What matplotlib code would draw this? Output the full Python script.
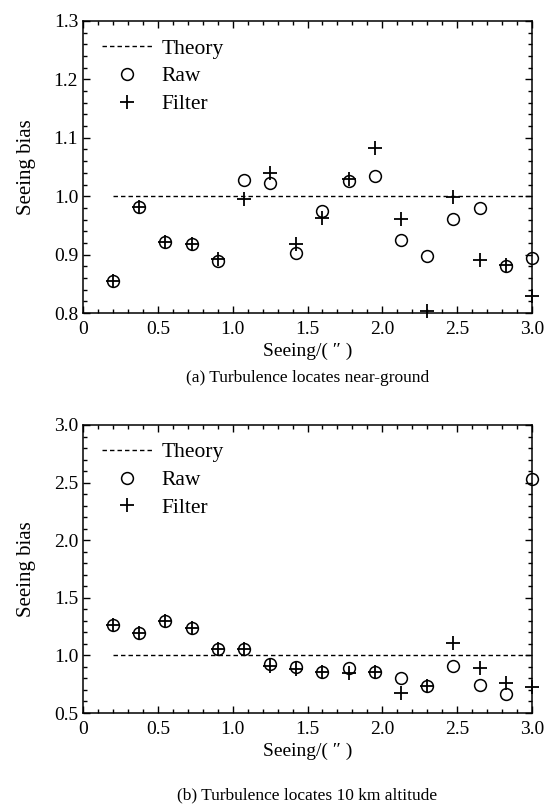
import matplotlib
matplotlib.use("Agg")
import matplotlib.pyplot as plt
from matplotlib.ticker import MultipleLocator, FormatStrFormatter

plt.rcParams['font.family'] = ['Liberation Serif', 'DejaVu Serif']
plt.rcParams['mathtext.fontset'] = 'stix'

seeing = [0.2, 0.375, 0.55, 0.725, 0.9, 1.075, 1.25, 1.425, 1.6, 1.775,
          1.95, 2.125, 2.3, 2.475, 2.65, 2.825, 3.0]

raw_a = [0.855, 0.982, 0.922, 0.918, 0.889, 1.028, 1.023, 0.903, 0.975, 1.026,
         1.035, 0.925, 0.898, 0.961, 0.980, 0.880, 0.894]
filt_a = [0.855, 0.982, 0.922, 0.918, 0.892, 0.995, 1.040, 0.918, 0.962, 1.029,
          1.083, 0.961, 0.804, 0.999, 0.891, 0.883, 0.829]

raw_b = [1.264, 1.192, 1.301, 1.241, 1.058, 1.058, 0.925, 0.902, 0.853, 0.888,
         0.853, 0.804, 0.732, 0.911, 0.740, 0.668, 2.531]
filt_b = [1.264, 1.192, 1.301, 1.241, 1.058, 1.058, 0.905, 0.882, 0.853, 0.850,
          0.853, 0.676, 0.732, 1.108, 0.888, 0.758, 0.729]

theory_x = [0.2, 3.0]
theory_y = [1.0, 1.0]

xticks = [0, 0.5, 1.0, 1.5, 2.0, 2.5, 3.0]
xticklabels = ['0', '0.5', '1.0', '1.5', '2.0', '2.5', '3.0']

fig = plt.figure(figsize=(5.45, 8.1), dpi=100)
W, H = 545, 810
ax1 = fig.add_axes([83 / W, 1 - 313 / H, 449 / W, 292 / H])
ax2 = fig.add_axes([83 / W, 1 - 713 / H, 449 / W, 288 / H])

panels = [
    (ax1, raw_a, filt_a, (0.8, 1.3), 0.1, 0.02, '%.1f',
     '(a) Turbulence locates near-ground', -0.195),
    (ax2, raw_b, filt_b, (0.5, 3.0), 0.5, 0.1, '%.1f',
     '(b) Turbulence locates 10 km altitude', -0.26),
]

for ax, raw, filt, ylim, ymaj, ymin, fmt, caption, cy in panels:
    ax.plot(theory_x, theory_y, ls=(0, (3.2, 2.2)), color='black', lw=1.0,
            label='Theory')
    ax.plot(seeing, raw, ls='none', marker='o', ms=8.5, mfc='none',
            mec='black', mew=1.1, label='Raw', clip_on=False)
    ax.plot(seeing, filt, ls='none', marker='+', ms=10, color='black',
            mew=1.3, label='Filter', clip_on=False)
    ax.set_xlim(0, 3.0)
    ax.set_ylim(*ylim)
    ax.set_xticks(xticks)
    ax.set_xticklabels(xticklabels)
    ax.xaxis.set_minor_locator(MultipleLocator(0.1))
    ax.yaxis.set_major_locator(MultipleLocator(ymaj))
    ax.yaxis.set_minor_locator(MultipleLocator(ymin))
    ax.yaxis.set_major_formatter(FormatStrFormatter(fmt))
    ax.tick_params(which='both', direction='in', top=True, right=True,
                   labelsize=14, width=1.0)
    ax.tick_params(axis='x', which='major', pad=6)
    ax.tick_params(which='major', length=5)
    ax.tick_params(which='minor', length=3)
    for s in ax.spines.values():
        s.set_linewidth(1.1)
    ax.set_ylabel('Seeing bias', fontsize=15, labelpad=12.5)
    ax.set_xlabel('Seeing/( \u2033 )', fontsize=14, labelpad=3)
    ax.text(0.5, cy, caption, transform=ax.transAxes, ha='center',
            va='top', fontsize=12.5)
    ax.legend(loc='upper left', bbox_to_anchor=(19 / 449, 0.94),
              frameon=False, fontsize=15.5,
              handlelength=2.35, handletextpad=0.42, labelspacing=0.36,
              borderaxespad=0.0, borderpad=0.0, markerscale=1.0)

fig.savefig('out.png', dpi=100)
